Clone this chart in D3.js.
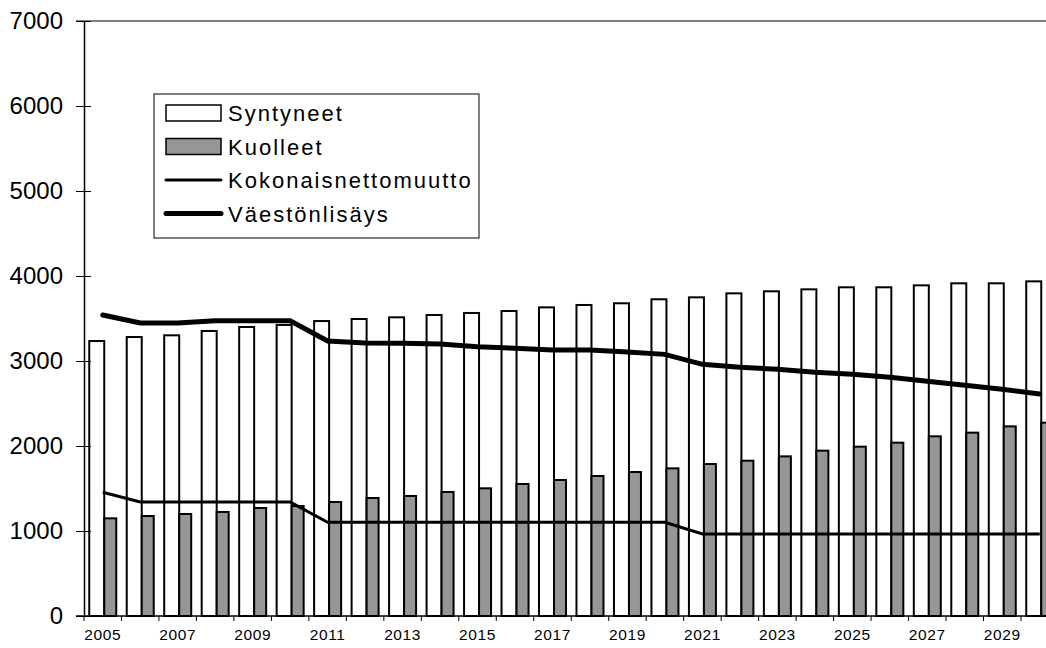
<!DOCTYPE html>
<html>
<head>
<meta charset="utf-8">
<script src="https://cdn.jsdelivr.net/npm/d3@7"></script>
<style>
  body { margin: 0; background: #fff; }
  svg { display: block; font-family: "Liberation Sans", Arial, sans-serif; }
</style>
</head>
<body>
<div id="chart"></div>
<script>
var years = d3.range(2005, 2031);
var syntyneet = [3235, 3282, 3302, 3353, 3400, 3424, 3470, 3494, 3514, 3541, 3565, 3588, 3631,
    3659, 3679, 3726, 3749, 3796, 3820, 3843, 3867, 3867, 3890, 3914, 3914, 3937];
var kuolleet = [1149, 1176, 1200, 1224, 1271, 1294, 1341, 1388, 1412, 1459, 1502, 1553, 1600,
    1647, 1694, 1737, 1788, 1827, 1878, 1945, 1992, 2039, 2114, 2157, 2231, 2274];
var nettomuutto = [1455, 1341, 1341, 1341, 1341, 1341, 1102, 1102, 1102, 1102, 1102, 1102, 1102,
    1102, 1102, 1102, 965, 965, 965, 965, 965, 965, 965, 965, 965, 965];
var lisays = [3541, 3447, 3447, 3474, 3474, 3474, 3235, 3212, 3208, 3200, 3168, 3149, 3129,
    3129, 3106, 3078, 2961, 2926, 2902, 2867, 2843, 2808, 2761, 2714, 2667, 2612];
var yTicks = [0, 1000, 2000, 3000, 4000, 5000, 6000, 7000];
var xLabels = years.filter(function (y) { return (y - 2005) % 2 === 0; });

var W = 1046, H = 648;
var plotLeft = 84, plotTop = 21, plotBottom = 616;
var step = 37.48;

var svg = d3.select("#chart")
    .append("svg")
    .attr("width", W)
    .attr("height", H);

var x = d3.scaleBand()
    .domain(years)
    .range([plotLeft, plotLeft + step * years.length])
    .padding(0);

var y = d3.scaleLinear()
    .domain([0, 7000])
    .range([plotBottom, plotTop]);

// top border of the plot area
svg.append("line")
    .attr("x1", 76).attr("x2", W)
    .attr("y1", y(7000)).attr("y2", y(7000))
    .attr("stroke", "#808080")
    .attr("stroke-width", 2);

// bars
var bw = x.bandwidth();
var whiteOff = bw * 0.14, whiteW = 15, grayW = 12;

svg.append("g").selectAll("rect")
    .data(syntyneet)
    .enter()
    .append("rect")
    .attr("x", function (d, i) { return x(years[i]) + whiteOff; })
    .attr("y", function (d) { return y(d); })
    .attr("width", whiteW)
    .attr("height", function (d) { return plotBottom - y(d); })
    .attr("fill", "#fff")
    .attr("stroke", "#000")
    .attr("stroke-width", 2);

svg.append("g").selectAll("rect")
    .data(kuolleet)
    .enter()
    .append("rect")
    .attr("x", function (d, i) { return x(years[i]) + whiteOff + whiteW; })
    .attr("y", function (d) { return y(d); })
    .attr("width", grayW)
    .attr("height", function (d) { return plotBottom - y(d); })
    .attr("fill", "#969696")
    .attr("stroke", "#000")
    .attr("stroke-width", 2);

// lines
var line = d3.line()
    .x(function (d, i) { return x(years[i]) + bw / 2; })
    .y(function (d) { return y(d); });

svg.append("path")
    .datum(nettomuutto)
    .attr("d", line)
    .attr("fill", "none")
    .attr("stroke", "#000")
    .attr("stroke-width", 3);

svg.append("path")
    .datum(lisays)
    .attr("d", line)
    .attr("fill", "none")
    .attr("stroke", "#000")
    .attr("stroke-width", 5)
    .attr("stroke-linecap", "round");

// y axis
var yAxis = svg.append("g")
    .attr("transform", "translate(" + plotLeft + ",0)")
    .call(d3.axisLeft(y).tickValues(yTicks).tickSize(0).tickPadding(21).tickFormat(d3.format("d")));
yAxis.select(".domain").attr("stroke", "#000").attr("stroke-width", 1.5);
yAxis.selectAll(".tick line")
    .attr("x1", -8).attr("x2", 7)
    .attr("stroke", "#000");
yAxis.selectAll(".tick text")
    .attr("font-size", 24)
    .attr("font-family", "Liberation Sans, Arial, sans-serif")
    .attr("fill", "#000");

// x axis
var xAxis = svg.append("g")
    .attr("transform", "translate(0," + plotBottom + ")")
    .call(d3.axisBottom(x).tickValues(xLabels).tickSize(0).tickPadding(13));
xAxis.select(".domain").remove();
svg.append("line")
    .attr("x1", 76).attr("x2", W)
    .attr("y1", plotBottom).attr("y2", plotBottom)
    .attr("stroke", "#000")
    .attr("stroke-width", 1.5);
xAxis.selectAll(".tick line").remove();
xAxis.selectAll(".tick text")
    .attr("font-size", 15.5)
    .attr("font-family", "Liberation Sans, Arial, sans-serif")
    .attr("letter-spacing", "0.6px")
    .attr("fill", "#000");
svg.append("g").selectAll("line")
    .data(years)
    .enter()
    .append("line")
    .attr("x1", function (d) { return x(d); })
    .attr("x2", function (d) { return x(d); })
    .attr("y1", plotBottom)
    .attr("y2", plotBottom + 5)
    .attr("stroke", "#000");

// legend
var legend = svg.append("g").attr("transform", "translate(154,94)");
legend.append("rect")
    .attr("width", 325).attr("height", 144)
    .attr("fill", "#fff")
    .attr("stroke", "#000");

var legendItems = [
    {name: "Syntyneet", type: "box", fill: "#fff"},
    {name: "Kuolleet", type: "box", fill: "#969696"},
    {name: "Kokonaisnettomuutto", type: "line", width: 3},
    {name: "Väestönlisäys", type: "line", width: 5}
];

legendItems.forEach(function (item, i) {
    var cy = 19 + i * 33.5;
    if (item.type === "box") {
        legend.append("rect")
            .attr("x", 12).attr("y", cy - 8)
            .attr("width", 55).attr("height", 16)
            .attr("fill", item.fill)
            .attr("stroke", "#000")
            .attr("stroke-width", 1.5);
    } else {
        legend.append("line")
            .attr("x1", 12).attr("x2", 67)
            .attr("y1", cy).attr("y2", cy)
            .attr("stroke", "#000")
            .attr("stroke-width", item.width)
            .attr("stroke-linecap", "round");
    }
    legend.append("text")
        .attr("x", 74)
        .attr("y", cy + 8)
        .attr("font-size", 22)
        .attr("letter-spacing", "2px")
        .attr("fill", "#000")
        .text(item.name);
});
</script>
</body>
</html>
